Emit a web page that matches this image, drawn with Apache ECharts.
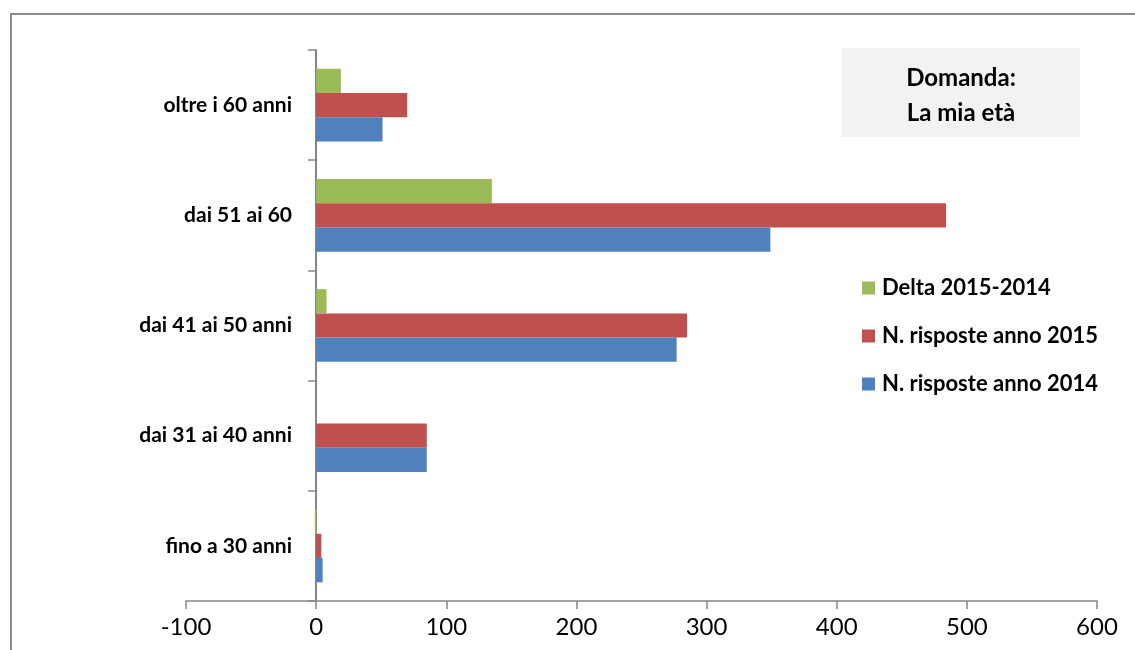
<!DOCTYPE html>
<html>
<head>
<meta charset="utf-8">
<script src="https://cdn.jsdelivr.net/npm/echarts@6/dist/echarts.min.js"></script>
<style>
  html, body { margin: 0; padding: 0; background: #fff; }
  #chart { width: 1135px; height: 650px; }
</style>
</head>
<body>
<div id="chart"></div>
<script>
// fasce d'età (dal basso verso l'alto)
const categories = ["fino a 30 anni", "dai 31 ai 40 anni", "dai 41 ai 50 anni", "dai 51 ai 60", "oltre i 60 anni"];
const risposte2014 = [5, 85, 277, 349, 51];
const risposte2015 = [4, 85, 285, 484, 70];
const delta = [-1, 0, 8, 135, 19];
const xTicks = { min: -100, max: 600, interval: 100 };

const FONT = "Lato, 'Open Sans', sans-serif";
const axisGray = "#868686";

const chart = echarts.init(document.getElementById("chart"));

const option = {
  backgroundColor: "#fff",
  animation: false,
  graphic: [
    {
      type: "rect",
      silent: true,
      shape: { x: 11, y: 14, width: 1200, height: 700 },
      style: { fill: "none", stroke: "#8c8c8c", lineWidth: 2 },
    },
    {
      type: "group",
      left: 842,
      top: 48,
      children: [
        {
          type: "rect",
          shape: { x: 0, y: 0, width: 238, height: 89 },
          style: { fill: "#f2f2f2" },
        },
        {
          type: "text",
          x: 119,
          y: 48,
          style: {
            text: "Domanda:\nLa mia età",
            font: "bold 24px " + FONT,
            fill: "#000",
            align: "center",
            verticalAlign: "middle",
            lineHeight: 35,
          },
        },
      ],
    },
  ],
  legend: {
    orient: "vertical",
    left: 857,
    top: 270,
    itemWidth: 13,
    itemHeight: 13,
    itemGap: 22,
    icon: "rect",
    data: ["Delta 2015-2014", "N. risposte anno 2015", "N. risposte anno 2014"],
    textStyle: {
      fontFamily: FONT,
      fontWeight: "bold",
      fontSize: 22,
      color: "#000",
      lineHeight: 26,
      padding: [0, 0, 0, 2],
    },
  },
  grid: { left: 186, right: 38, top: 50, bottom: 49, containLabel: false },
  xAxis: {
    type: "value",
    min: xTicks.min,
    max: xTicks.max,
    interval: xTicks.interval,
    splitLine: { show: false },
    axisLine: { show: true, lineStyle: { color: axisGray, width: 1.5 } },
    axisTick: { show: true, length: 8, lineStyle: { color: axisGray, width: 1.5 } },
    axisLabel: { color: "#000", fontFamily: FONT, fontSize: 24, margin: 14 },
  },
  yAxis: {
    type: "category",
    data: categories,
    axisLine: { show: true, onZero: true, lineStyle: { color: axisGray, width: 2 } },
    axisTick: { show: true, length: 8, lineStyle: { color: axisGray, width: 1.5 } },
    // le etichette stanno accanto all'asse sullo zero, non al bordo della griglia
    axisLabel: { color: "#000", fontFamily: FONT, fontWeight: "bold", fontSize: 21, margin: -106 },
  },
  series: [
    {
      name: "Delta 2015-2014",
      type: "bar",
      data: delta,
      itemStyle: { color: "#9bbb59" },
      barGap: "0%",
      barCategoryGap: "34%",
    },
    {
      name: "N. risposte anno 2015",
      type: "bar",
      data: risposte2015,
      itemStyle: { color: "#c0504d" },
    },
    {
      name: "N. risposte anno 2014",
      type: "bar",
      data: risposte2014,
      itemStyle: { color: "#4f81bd" },
    },
  ],
};

chart.setOption(option);
</script>
</body>
</html>
